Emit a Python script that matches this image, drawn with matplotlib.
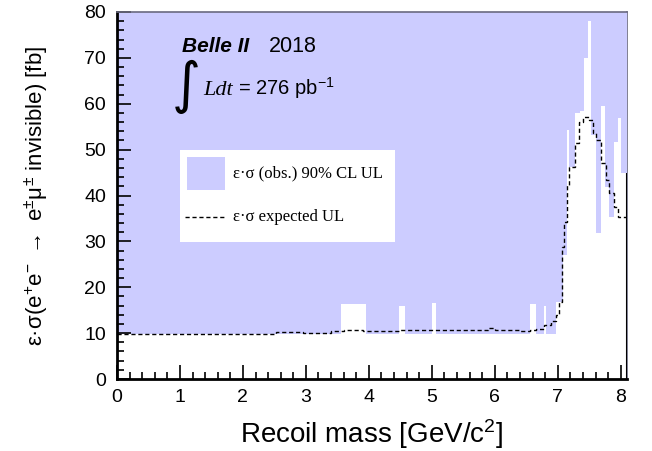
import matplotlib
matplotlib.use("Agg")
import matplotlib.pyplot as plt
from matplotlib.ticker import MultipleLocator
from matplotlib.patches import Rectangle
from matplotlib.lines import Line2D

# ---- data ----
obs_edges = [0.0, 3.56, 3.96, 4.48, 4.57, 5.00, 5.07, 6.56, 6.65, 6.78, 6.81,
             6.98, 7.09, 7.14, 7.18, 7.28, 7.35, 7.42, 7.48, 7.53, 7.61, 7.69,
             7.75, 7.81, 7.89, 7.95, 8.00, 8.10]
obs_ul = [9.9, 16.3, 9.9, 16.0, 9.9, 16.5, 9.9, 16.4, 9.9, 15.9,
          9.9, 16.8, 27.0, 54.3, 46.3, 57.9, 58.5, 69.9, 78.0, 53.2, 31.8,
          59.5, 41.9, 35.4, 51.7, 57.0, 44.8]

exp_edges = [0.0, 2.53, 2.96, 3.40, 3.60, 3.90, 4.50, 5.00, 5.50, 5.90, 6.00,
             6.40, 6.56, 6.66, 6.78, 6.90, 6.97, 7.02, 7.07, 7.10, 7.14, 7.18,
             7.27, 7.34, 7.40, 7.50, 7.56, 7.61, 7.69, 7.77, 7.82, 7.89, 7.96,
             8.09]
exp_ul = [9.9, 10.2, 10.1, 10.5, 10.7, 10.5, 10.6, 10.7, 10.6, 11.2,
          10.6, 10.4, 10.6, 11.0, 11.8, 12.6, 14.0, 16.8, 28.8, 34.3, 42.3,
          46.3, 51.4, 56.1, 57.2, 56.5, 53.6, 52.0, 47.0, 43.4, 40.5, 37.6,
          35.4]

x_ticks = [0, 1, 2, 3, 4, 5, 6, 7, 8]
y_ticks = [0, 10, 20, 30, 40, 50, 60, 70, 80]

LAV = "#ccccff"

plt.rcParams['font.family'] = ['Liberation Sans', 'DejaVu Sans']
plt.rcParams['mathtext.fontset'] = 'custom'
plt.rcParams['mathtext.rm'] = 'Liberation Sans'
plt.rcParams['mathtext.it'] = 'Liberation Sans'
plt.rcParams['mathtext.bf'] = 'Liberation Sans:bold'

fig = plt.figure(figsize=(6.52, 4.51), dpi=100)
ax = fig.add_axes([117/652, 1-379/451, 510/652, 367/451])

ax.set_xlim(0, 8.1)
ax.set_ylim(0, 80)

# filled region above the observed UL
ax.stairs(obs_ul, obs_edges, baseline=80, fill=True, color=LAV, lw=0, zorder=1)
# expected UL
ax.stairs(exp_ul, exp_edges, baseline=None, color='black', lw=1.0,
          linestyle=(0, (3, 2)), zorder=3)

ax.set_xticks(x_ticks)
ax.set_yticks(y_ticks)
ax.xaxis.set_minor_locator(MultipleLocator(0.2))
ax.yaxis.set_minor_locator(MultipleLocator(2))
ax.tick_params(which='both', direction='in', top=False, right=False,
               labelsize=14, width=1.2, colors='black')
ax.tick_params(which='major', length=10)
ax.tick_params(which='minor', length=5)
ax.tick_params(axis='y', which='major', pad=8)
ax.tick_params(axis='x', which='major', pad=7)

for s in ['left', 'bottom']:
    ax.spines[s].set_linewidth(2.0)
    ax.spines[s].set_color('black')
for s in ['top', 'right']:
    ax.spines[s].set_linewidth(1.2)
    ax.spines[s].set_color('#6a6a80')
ax.spines['right'].set_zorder(0.5)
ax.vlines(obs_edges[-1], 0, obs_ul[-1], color='black', lw=1.5, zorder=4)

ax.set_xlabel(r'Recoil mass [GeV/c$^{2}$]', fontsize=20, labelpad=8)
ax.set_ylabel('$\\varepsilon$\u00b7$\\sigma$(e$^{+}$e$^{-}$ $\\rightarrow$ e$^{\\pm}\\mu^{\\pm}$ invisible) [fb]',
              fontsize=16, labelpad=24)

# annotations
ax.text(0.127, 0.892, 'Belle II', transform=ax.transAxes, fontsize=15,
        fontweight='bold', fontstyle='italic', ha='left', va='baseline', zorder=5)
ax.text(0.298, 0.892, '2018', transform=ax.transAxes, fontsize=15.5,
        ha='left', va='baseline', zorder=5)
ax.text(0.108, 0.755, '\u222b', transform=ax.transAxes, fontsize=40,
        family='DejaVu Sans', ha='left', va='baseline', zorder=5)
ax.text(0.170, 0.775, 'Ldt', transform=ax.transAxes, fontsize=16,
        family='Liberation Serif', fontstyle='italic', ha='left',
        va='baseline', zorder=5)
ax.text(0.237, 0.775, r'= 276 pb$^{\mathregular{-1}}$', transform=ax.transAxes,
        fontsize=14.5, ha='left', va='baseline', zorder=5)

# legend box
ax.add_patch(Rectangle((0.1235, 0.373), 0.4215, 0.251, transform=ax.transAxes,
                       facecolor='white', edgecolor='none', zorder=5))
ax.add_patch(Rectangle((0.137, 0.515), 0.075, 0.090, transform=ax.transAxes,
                       facecolor=LAV, edgecolor='none', zorder=6))
ax.text(0.227, 0.560, '\u03b5\u00b7\u03c3 (obs.) 90% CL UL', transform=ax.transAxes,
        fontsize=12, family='Liberation Serif', ha='left', va='center', zorder=6)
ax.add_line(Line2D([0.133, 0.214], [0.441, 0.441], transform=ax.transAxes,
                   color='black', lw=1.0, linestyle=(0, (3, 2)), zorder=6))
ax.text(0.227, 0.441, '\u03b5\u00b7\u03c3 expected UL', transform=ax.transAxes,
        fontsize=12, family='Liberation Serif', ha='left', va='center', zorder=6)

fig.savefig('out.png', dpi=100)
